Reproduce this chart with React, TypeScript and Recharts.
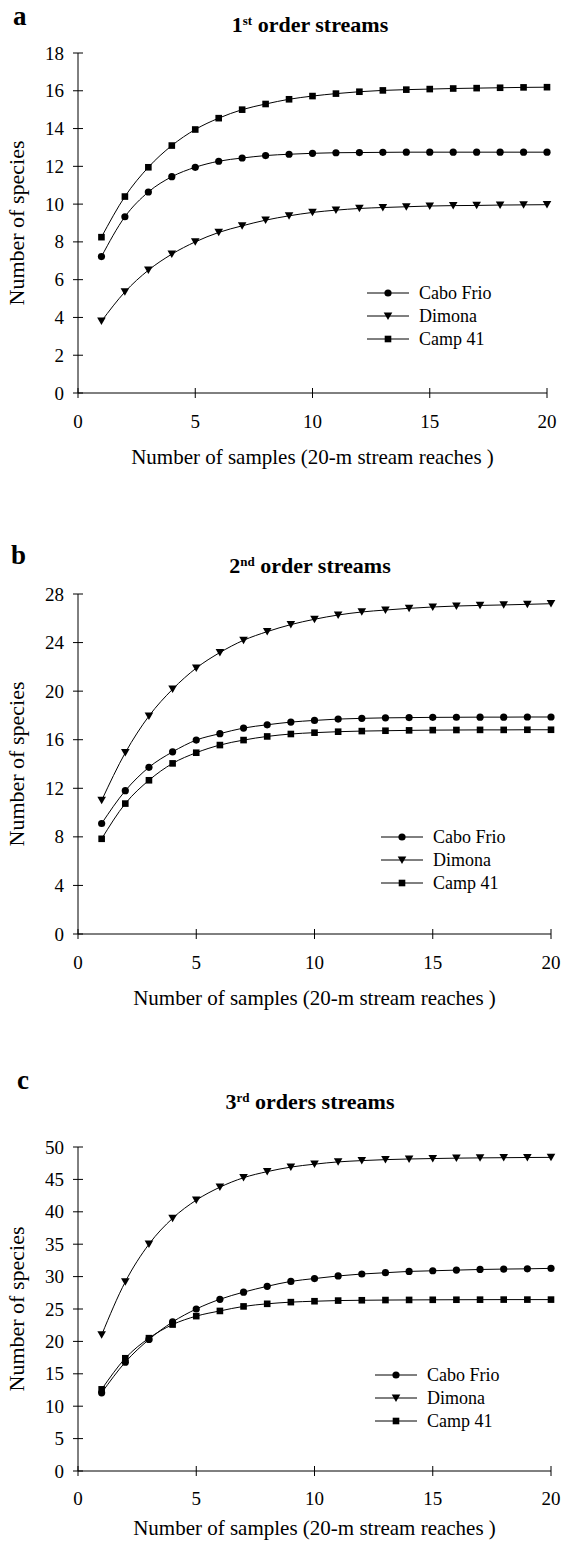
import React from 'react';
import { LineChart, Line, XAxis, YAxis, Legend, Label } from 'recharts';

const samples = [1, 2, 3, 4, 5, 6, 7, 8, 9, 10, 11, 12, 13, 14, 15, 16, 17, 18, 19, 20];
const xTicks = [0, 5, 10, 15, 20];

// 1st order streams
const caboFrioA = [7.22, 9.33, 10.64, 11.45, 11.95, 12.27, 12.44, 12.57, 12.64, 12.69, 12.72, 12.73, 12.74, 12.75, 12.75, 12.75, 12.75, 12.75, 12.75, 12.75];
const dimonaA = [3.8, 5.35, 6.5, 7.35, 8.0, 8.5, 8.85, 9.15, 9.38, 9.56, 9.68, 9.77, 9.82, 9.86, 9.9, 9.92, 9.93, 9.95, 9.96, 9.97];
const camp41A = [8.25, 10.4, 11.95, 13.1, 13.95, 14.55, 15.0, 15.3, 15.55, 15.72, 15.85, 15.95, 16.02, 16.06, 16.09, 16.12, 16.14, 16.16, 16.18, 16.19];
const yTicksA = [0, 2, 4, 6, 8, 10, 12, 14, 16, 18];

// 2nd order streams
const caboFrioB = [9.1, 11.8, 13.73, 15.0, 15.97, 16.5, 16.96, 17.23, 17.45, 17.59, 17.7, 17.76, 17.8, 17.82, 17.84, 17.85, 17.86, 17.86, 17.87, 17.87];
const dimonaB = [11.0, 14.93, 17.95, 20.16, 21.9, 23.18, 24.19, 24.9, 25.48, 25.92, 26.27, 26.52, 26.68, 26.82, 26.93, 27.01, 27.06, 27.1, 27.15, 27.2];
const camp41B = [7.84, 10.74, 12.66, 14.05, 14.93, 15.56, 15.97, 16.27, 16.47, 16.58, 16.66, 16.71, 16.74, 16.77, 16.79, 16.8, 16.81, 16.81, 16.82, 16.82];
const yTicksB = [0, 4, 8, 12, 16, 20, 24, 28];

// 3rd order streams
const caboFrioC = [12.06, 16.8, 20.3, 23.0, 25.0, 26.5, 27.6, 28.5, 29.26, 29.7, 30.1, 30.4, 30.6, 30.8, 30.9, 31.0, 31.1, 31.16, 31.2, 31.27];
const dimonaC = [21.0, 29.2, 35.0, 39.0, 41.8, 43.8, 45.26, 46.2, 46.9, 47.35, 47.7, 47.9, 48.05, 48.15, 48.22, 48.28, 48.32, 48.35, 48.38, 48.4];
const camp41C = [12.6, 17.4, 20.5, 22.6, 23.9, 24.7, 25.4, 25.8, 26.06, 26.2, 26.3, 26.35, 26.38, 26.4, 26.42, 26.43, 26.44, 26.45, 26.45, 26.45];
const yTicksC = [0, 5, 10, 15, 20, 25, 30, 35, 40, 45, 50];

const seriesNames = ['Cabo Frio', 'Dimona', 'Camp 41'];
const xLabel = 'Number of samples (20-m stream reaches )';
const yLabel = 'Number of species';

const FONT = 'Liberation Serif, Tinos, DejaVu Serif, serif';
const INK = '#000';

type Marker = 'circle' | 'triangle' | 'square';

function markerEl(kind: Marker, cx: number, cy: number, key?: any) {
  if (kind === 'circle') return <circle key={key} cx={cx} cy={cy} r={3.6} fill={INK} />;
  if (kind === 'square') return <rect key={key} x={cx - 3.3} y={cy - 3.3} width={6.6} height={6.6} fill={INK} />;
  return <path key={key} d={`M${cx - 4.3},${cy - 3.6}L${cx + 4.3},${cy - 3.6}L${cx},${cy + 3.9}Z`} fill={INK} />;
}

const makeDot = (kind: Marker) => (p: any) => {
  if (p.cx == null || p.cy == null) return <g key={p.index} />;
  return markerEl(kind, p.cx, p.cy, p.index);
};

const YTick = (p: any) => {
  const ax = p.x;
  return (
    <g>
      <line x1={ax - 5} x2={ax + 5} y1={p.y} y2={p.y} stroke={INK} strokeWidth={1} />
      <text x={ax - 14} y={p.y + 6.5} textAnchor="end" fontSize={19} fontFamily={FONT} fill={INK}>
        {p.payload.value}
      </text>
    </g>
  );
};

const makeXTick = (gap: number) => (p: any) => {
  const ay = p.y;
  return (
    <g>
      <line x1={p.x} x2={p.x} y1={ay - 5} y2={ay + 5} stroke={INK} strokeWidth={1} />
      <text x={p.x} y={ay + gap + 6.5} textAnchor="middle" fontSize={19} fontFamily={FONT} fill={INK}>
        {p.payload.value}
      </text>
    </g>
  );
};

const YLabelContent = (p: any) => {
  const vb = p.viewBox || { x: 0, y: 0, width: 0, height: 0 };
  const cy = vb.y + vb.height / 2;
  return (
    <text transform={`translate(24, ${cy}) rotate(-90)`} textAnchor="middle" fontSize={22} fontFamily={FONT} fill={INK}>
      {yLabel}
    </text>
  );
};

interface PanelProps {
  top: number;
  height: number;
  plotTop: number;
  plotBottom: number;
  right: number;
  yMax: number;
  yTicks: number[];
  cabo: number[];
  dimona: number[];
  camp: number[];
  legendLeft: number;
  legendTop: number;
  tickGap: number;
  labelGap: number;
  letter: string;
  letterLeft: number;
  letterTop: number;
  ordinal: string;
  sup: string;
  titleRest: string;
  titleTop: number;
}

function Panel(props: PanelProps) {
  const data = samples.map((s, i) => ({
    x: s,
    cabo: props.cabo[i],
    dimona: props.dimona[i],
    camp: props.camp[i],
  }));
  const markers: Marker[] = ['circle', 'triangle', 'square'];
  const XTick = makeXTick(props.tickGap);

  const legendContent = () => (
    <svg width={140} height={72} style={{ display: 'block' }}>
      {seriesNames.map((n, i) => {
        const cy = 10 + i * 23;
        return (
          <g key={n}>
            <line x1={0} x2={42} y1={cy} y2={cy} stroke={INK} strokeWidth={1} />
            {markerEl(markers[i], 21, cy)}
            <text x={52} y={cy + 6} fontSize={18} fontFamily={FONT} fill={INK}>
              {n}
            </text>
          </g>
        );
      })}
    </svg>
  );

  return (
    <div style={{ position: 'absolute', left: 0, top: props.top, width: 561, height: props.height }}>
      <div
        style={{
          position: 'absolute',
          left: props.letterLeft,
          top: props.letterTop,
          fontFamily: FONT,
          fontWeight: 'bold',
          fontSize: 27,
          lineHeight: '27px',
        }}
      >
        {props.letter}
      </div>
      <div
        style={{
          position: 'absolute',
          left: 310,
          top: props.titleTop,
          transform: 'translateX(-50%)',
          whiteSpace: 'nowrap',
          fontFamily: FONT,
          fontWeight: 'bold',
          fontSize: 22,
          lineHeight: '22px',
        }}
      >
        {props.ordinal}
        <sup style={{ fontSize: 13, verticalAlign: 'top', position: 'relative', top: -4 }}>{props.sup}</sup>
        {' ' + props.titleRest}
      </div>
      <LineChart
        width={561}
        height={props.height}
        data={data}
        margin={{ top: props.plotTop, right: 561 - props.right, bottom: 0, left: 0 }}
        style={{ position: 'absolute', left: 0, top: 0 }}
      >
        <XAxis
          dataKey="x"
          type="number"
          domain={[0, 20]}
          ticks={xTicks}
          tickSize={0}
          tickMargin={0}
          tickLine={false}
          axisLine={{ stroke: INK, strokeWidth: 1 }}
          tick={<XTick />}
          height={props.height - props.plotBottom}
          interval={0}
        >
          <Label
            value={xLabel}
            position="insideTop"
            offset={props.labelGap}
            fontSize={21}
            fontFamily={FONT}
            fill={INK}
          />
        </XAxis>
        <YAxis
          type="number"
          domain={[0, props.yMax]}
          ticks={props.yTicks}
          width={78}
          tickSize={0}
          tickMargin={0}
          tickLine={false}
          axisLine={{ stroke: INK, strokeWidth: 1 }}
          tick={<YTick />}
          interval={0}
        >
          <Label content={<YLabelContent />} />
        </YAxis>
        <Legend
          layout="vertical"
          align="center"
          verticalAlign="middle"
          content={legendContent}
          wrapperStyle={{ position: 'absolute', left: props.legendLeft, top: props.legendTop, width: 140, height: 72 }}
        />
        <Line dataKey="cabo" name={seriesNames[0]} stroke={INK} strokeWidth={1} dot={makeDot('circle')} activeDot={false} isAnimationActive={false} type="monotone" />
        <Line dataKey="dimona" name={seriesNames[1]} stroke={INK} strokeWidth={1} dot={makeDot('triangle')} activeDot={false} isAnimationActive={false} type="monotone" />
        <Line dataKey="camp" name={seriesNames[2]} stroke={INK} strokeWidth={1} dot={makeDot('square')} activeDot={false} isAnimationActive={false} type="monotone" />
      </LineChart>
    </div>
  );
}

export default function App() {
  return (
    <div style={{ position: 'absolute', left: 0, top: 0, width: 561, height: 1542, overflow: 'hidden', background: '#fff', fontFamily: FONT }}>
      <Panel
        top={0}
        height={470}
        plotTop={53}
        plotBottom={393}
        right={547}
        yMax={18}
        yTicks={yTicksA}
        cabo={caboFrioA}
        dimona={dimonaA}
        camp={camp41A}
        legendLeft={367}
        legendTop={283}
        tickGap={28}
        labelGap={56}
        letter="a"
        letterLeft={13}
        letterTop={3}
        ordinal="1"
        sup="st"
        titleRest="order streams"
        titleTop={14}
      />
      <Panel
        top={500}
        height={510}
        plotTop={94}
        plotBottom={434}
        right={551}
        yMax={28}
        yTicks={yTicksB}
        cabo={caboFrioB}
        dimona={dimonaB}
        camp={camp41B}
        legendLeft={381}
        legendTop={327}
        tickGap={28}
        labelGap={56}
        letter="b"
        letterLeft={11}
        letterTop={42}
        ordinal="2"
        sup="nd"
        titleRest="order streams"
        titleTop={55}
      />
      <Panel
        top={1040}
        height={502}
        plotTop={107}
        plotBottom={431}
        right={551}
        yMax={50}
        yTicks={yTicksC}
        cabo={caboFrioC}
        dimona={dimonaC}
        camp={camp41C}
        legendLeft={375}
        legendTop={325}
        tickGap={27}
        labelGap={49}
        letter="c"
        letterLeft={17}
        letterTop={27}
        ordinal="3"
        sup="rd"
        titleRest="orders streams"
        titleTop={51}
      />
    </div>
  );
}
